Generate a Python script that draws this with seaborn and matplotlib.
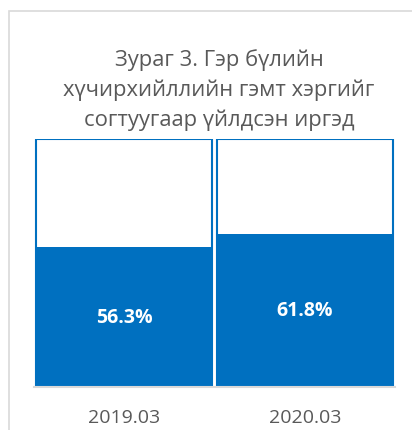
import matplotlib
matplotlib.use("Agg")
import matplotlib.pyplot as plt
import seaborn as sns
import pandas as pd
from matplotlib.patches import Rectangle

# data
periods = ["2019.03", "2020.03"]
share_pct = [56.3, 61.8]
total_pct = [100, 100]
title = "Зураг 3. Гэр бүлийн\nхүчирхийллийн гэмт хэргийг\nсогтуугаар үйлдсэн иргэд"

BLUE = "#0070C0"
GREY_TXT = "#595959"
GREY_LINE = "#D9D9D9"

sns.set_theme(style="white")
plt.rcParams["font.family"] = ["Open Sans", "DejaVu Sans"]

df = pd.DataFrame({"period": periods, "share": share_pct, "total": total_pct})

fig = plt.figure(figsize=(4.12, 4.31), dpi=100)
fig.patch.set_facecolor("white")
ax = fig.add_axes([34 / 412, 1 - 388 / 431, 361 / 412, 248 / 431])

# full-height outlined bar, then the share on top
sns.barplot(data=df, x="period", y="total", color="white", saturation=1,
            edgecolor=BLUE, linewidth=1.5, width=0.975, ax=ax)
sns.barplot(data=df, x="period", y="share", color=BLUE, saturation=1,
            linewidth=0, width=0.975, ax=ax)

for i, v in enumerate(share_pct):
    ax.text(i, v / 2, f"{v:.1f}%", ha="center", va="center", color="white",
            fontsize=14, fontweight="bold")

ax.set_xlim(-0.5, 1.5)
ax.set_ylim(0, 100)
ax.set_xlabel("")
ax.set_ylabel("")
ax.set_yticks([])
ax.tick_params(axis="x", length=0, pad=15, labelsize=14, labelcolor=GREY_TXT)
for s in ["top", "right", "left"]:
    ax.spines[s].set_visible(False)
ax.spines["bottom"].set_color(GREY_LINE)
ax.spines["bottom"].set_linewidth(1.5)

fig.text(219 / 412, 1 - 90 / 431, title, ha="center", va="center",
         fontsize=15.8, color=GREY_TXT, linespacing=1.5)

# chart frame, cut off at right and bottom
fig.patches.append(Rectangle((8.5 / 412, -0.1), 1.2, 1.1 - 11.5 / 431,
                             transform=fig.transFigure, fill=False,
                             edgecolor=GREY_LINE, linewidth=1.2))

fig.savefig("out.png", dpi=100)
